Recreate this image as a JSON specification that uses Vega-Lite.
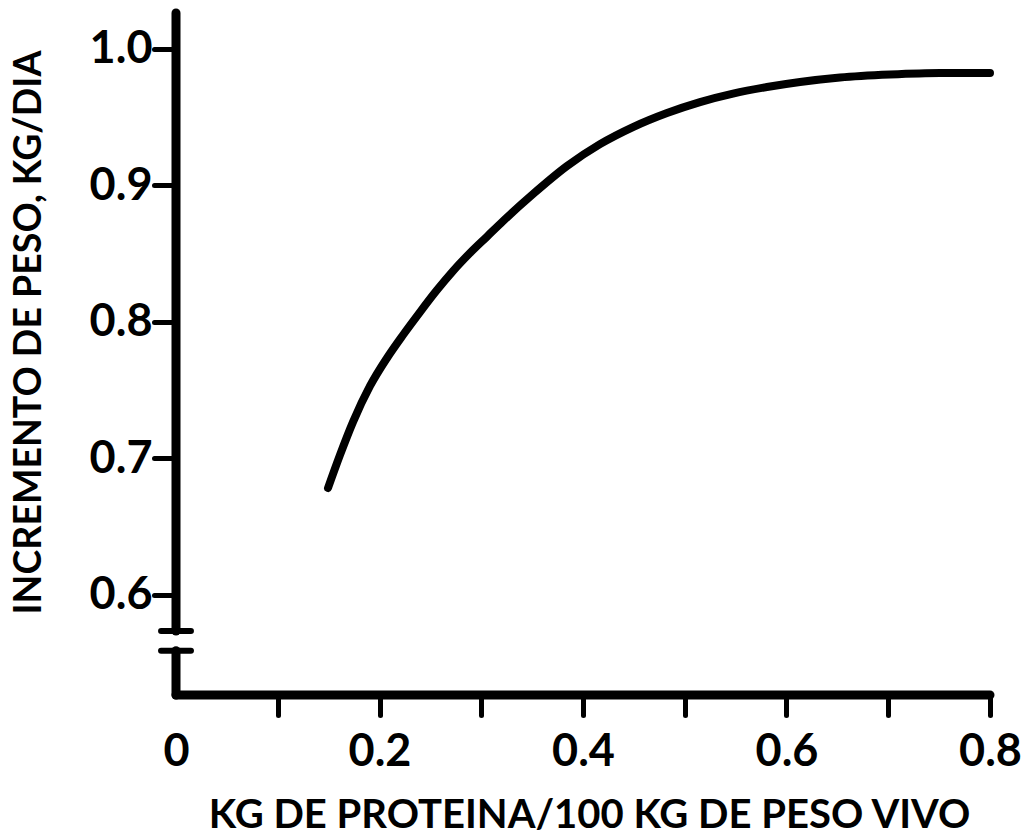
{
  "$schema": "https://vega.github.io/schema/vega-lite/v6.json",
  "width": 814,
  "height": 682,
  "autosize": "none",
  "padding": {"left": 176, "top": 13, "right": 40, "bottom": 140},
  "background": "white",
  "view": {"stroke": null},
  "config": {
    "font": "Lato",
    "axis": {"grid": false}
  },
  "datasets": {
    "curve": [
      {"x": 0.1494, "y": 0.6783},
      {"x": 0.1612, "y": 0.7025},
      {"x": 0.174, "y": 0.7267},
      {"x": 0.1907, "y": 0.753},
      {"x": 0.2074, "y": 0.7735},
      {"x": 0.2231, "y": 0.7903},
      {"x": 0.2398, "y": 0.8071},
      {"x": 0.2565, "y": 0.8232},
      {"x": 0.2722, "y": 0.8371},
      {"x": 0.2889, "y": 0.8503},
      {"x": 0.3057, "y": 0.8624},
      {"x": 0.3214, "y": 0.8737},
      {"x": 0.3509, "y": 0.8935},
      {"x": 0.3843, "y": 0.914},
      {"x": 0.4167, "y": 0.93},
      {"x": 0.4491, "y": 0.9425},
      {"x": 0.4826, "y": 0.9528},
      {"x": 0.515, "y": 0.9608},
      {"x": 0.5474, "y": 0.967},
      {"x": 0.5808, "y": 0.9718},
      {"x": 0.6133, "y": 0.9755},
      {"x": 0.6526, "y": 0.9788},
      {"x": 0.7017, "y": 0.981},
      {"x": 0.7509, "y": 0.9821},
      {"x": 0.8, "y": 0.9821}
    ],
    "axislines": [
      {"x": 0, "x2": 0, "y": 0.5736, "y2": 1.026},
      {"x": 0, "x2": 0, "y": 0.5268, "y2": 0.5592},
      {"x": 0, "x2": 0.8, "y": 0.5268, "y2": 0.5268}
    ],
    "breakbars": [
      {"x": -0.0147, "x2": 0.0147, "y": 0.5736, "y2": 0.5736},
      {"x": -0.0147, "x2": 0.0147, "y": 0.5592, "y2": 0.5592}
    ]
  },
  "layer": [
    {
      "data": {"name": "curve"},
      "mark": {"type": "line", "color": "black", "strokeWidth": 8, "strokeCap": "round", "strokeJoin": "round", "interpolate": "monotone", "clip": false},
      "encoding": {
        "x": {
          "field": "x", "type": "quantitative",
          "scale": {"domain": [0, 0.8], "nice": false, "zero": false},
          "axis": {
            "title": "KG DE PROTEINA/100 KG DE PESO VIVO",
            "values": [0, 0.1, 0.2, 0.3, 0.4, 0.5, 0.6, 0.7, 0.8],
            "labelExpr": "round(datum.value*10) % 2 == 1 ? '' : (datum.value == 0 ? '0' : format(datum.value, '.1f'))",
            "domain": false,
            "ticks": true,
            "tickSize": 20,
            "tickWidth": 5,
            "tickCap": "round",
            "tickColor": "black",
            "tickOpacity": {"condition": {"test": "datum.value == 0", "value": 0}, "value": 1},
            "labelFont": "Lato",
            "labelFontWeight": "bold",
            "labelFontSize": 45,
            "labelColor": "black",
            "labelBaseline": "alphabetic",
            "labelPadding": 50,
            "labelOverlap": false,
            "labelFlush": false,
            "titleFont": "Lato",
            "titleFontWeight": "bold",
            "titleFontSize": 40,
            "titleColor": "black",
            "titleX": 413,
            "titleY": 132,
            "titleAlign": "center",
            "titleBaseline": "alphabetic"
          }
        },
        "y": {
          "field": "y", "type": "quantitative",
          "scale": {"domain": [0.5268, 1.026], "nice": false, "zero": false},
          "axis": {
            "title": "INCREMENTO DE PESO, KG/DIA",
            "values": [0.6, 0.7, 0.8, 0.9, 1.0],
            "format": ".1f",
            "domain": false,
            "tickSize": 22,
            "tickWidth": 5,
            "tickCap": "round",
            "tickColor": "black",
            "labelFont": "Lato",
            "labelFontWeight": "bold",
            "labelFontSize": 45,
            "labelColor": "black",
            "labelPadding": 2,
            "labelBaseline": "middle",
            "labelOverlap": false,
            "labelFlush": false,
            "titleFont": "Lato",
            "titleFontWeight": "bold",
            "titleFontSize": 37.5,
            "titleColor": "black",
            "titleAngle": 270,
            "titleX": -136,
            "titleY": 319,
            "titleAlign": "center",
            "titleBaseline": "alphabetic"
          }
        }
      }
    },
    {
      "data": {"name": "axislines"},
      "mark": {"type": "rule", "color": "black", "strokeWidth": 9, "strokeCap": "round", "clip": false},
      "encoding": {
        "x": {"field": "x", "type": "quantitative"},
        "x2": {"field": "x2"},
        "y": {"field": "y", "type": "quantitative"},
        "y2": {"field": "y2"}
      }
    },
    {
      "data": {"name": "breakbars"},
      "mark": {"type": "rule", "color": "black", "strokeWidth": 6, "strokeCap": "round", "clip": false},
      "encoding": {
        "x": {"field": "x", "type": "quantitative"},
        "x2": {"field": "x2"},
        "y": {"field": "y", "type": "quantitative"},
        "y2": {"field": "y2"}
      }
    }
  ]
}
